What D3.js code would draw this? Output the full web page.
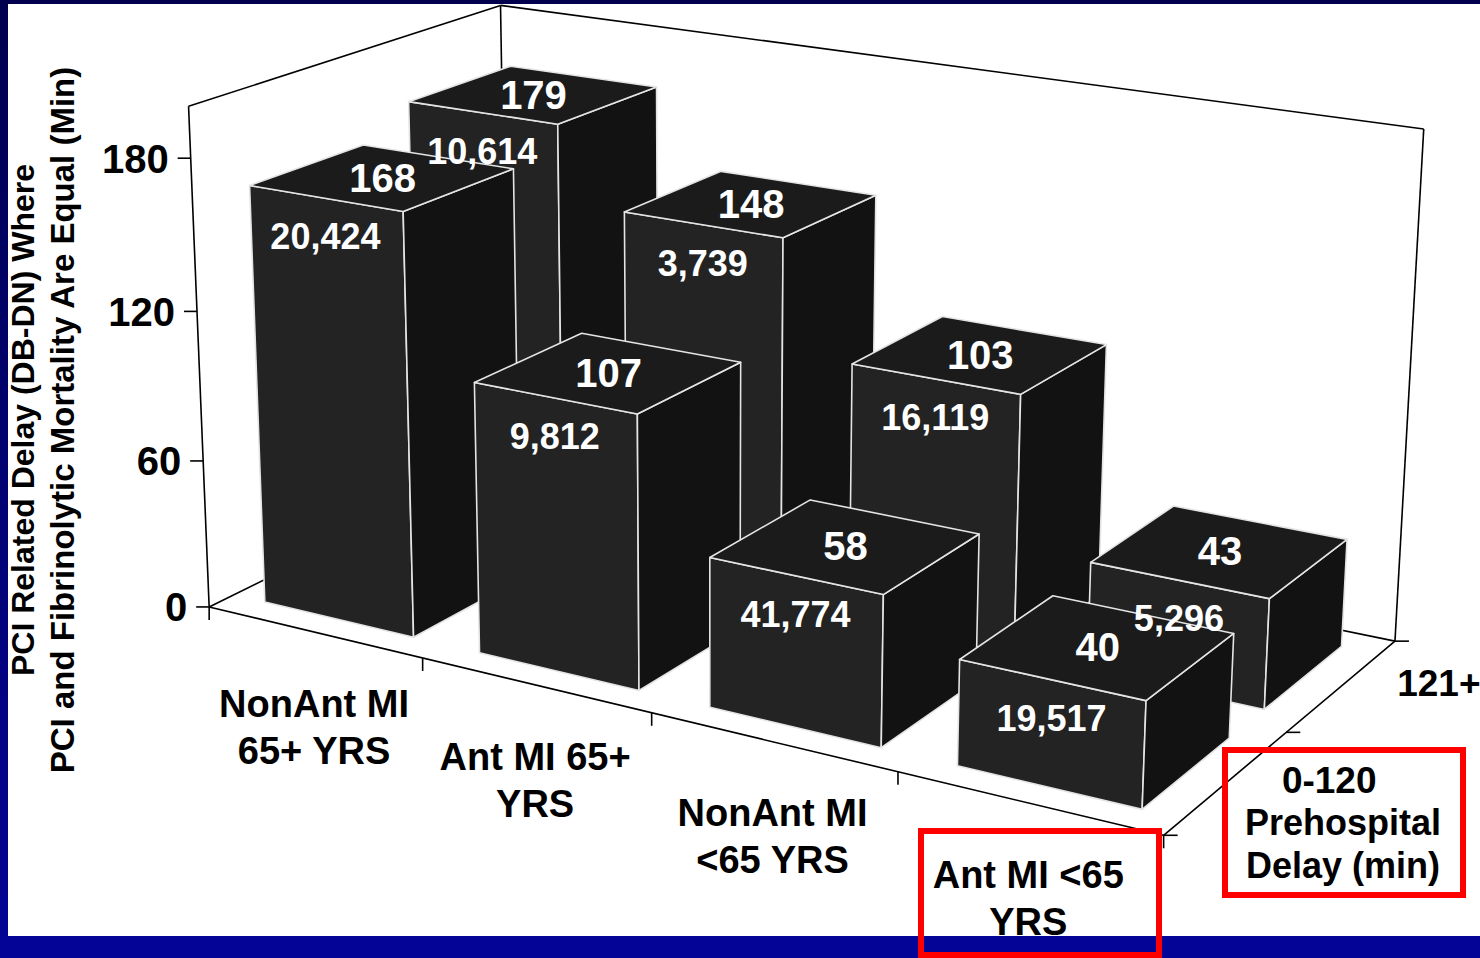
<!DOCTYPE html>
<html>
<head>
<meta charset="utf-8">
<script src="https://cdn.jsdelivr.net/npm/d3@7"></script>
<style>
body { margin: 0; background: #fff; }
text { font-family: "Liberation Sans", Arial, sans-serif; font-weight: bold; }
</style>
</head>
<body>
<svg id="chart" width="1480" height="958"></svg>
<script>
// chart data
var categoryLines = [["NonAnt MI", "65+ YRS"], ["Ant MI 65+", "YRS"], ["NonAnt MI", "<65 YRS"], ["Ant MI <65", "YRS"]]
var delayGroups = ["0-120", "121+"]
var delayEarly = [168, 107, 58, 40]          // 0-120 min prehospital delay
var delayEarlyN = [20424, 9812, 41774, 19517]
var delayLate = [179, 148, 103, 43]          // 121+ min
var delayLateN = [10614, 3739, 16119, 5296]
var valueTicks = [0, 60, 120, 180]

var svg = d3.select("#chart")

// world scales: x = category (0..4), z = delay row (0..2), y = value (0..2)
var xScale = d3.scaleBand().domain(d3.range(categoryLines.length)).range([0, 4]).paddingInner(0.3).paddingOuter(0.15)
var zScale = d3.scaleBand().domain(delayGroups).range([0, 2]).paddingInner(0.3).paddingOuter(0.15)
var yScale = d3.scaleLinear().domain([0, 200]).range([0, 2])

// camera fitted (DLT) to where the box frame sits in the picture
var calib = [
    [0, 0, 0, 210, 605], [4, 0, 0, 1163, 837], [0, 0, 2, 506, 461], [4, 0, 2, 1396, 639],
    [0, 2, 0, 188, 105], [0, 2, 2, 502, 5], [4, 2, 2, 1423, 130],
    [0, 0.6, 0, 204, 463], [0, 1.2, 0, 197, 312], [0, 1.8, 0, 190, 158],
    [1, 0, 0, 423, 657], [2, 0, 0, 652, 713], [3, 0, 0, 897, 772], [4, 0, 1, 1287, 732]
]

var solve = function(M, r)
    {
        var n = r.length
        for (var i = 0; i < n; i++)
        {
            var p = i
            for (var k = i + 1; k < n; k++) { if (Math.abs(M[k][i]) > Math.abs(M[p][i])) p = k }
            var tmp = M[i]; M[i] = M[p]; M[p] = tmp
            var t = r[i]; r[i] = r[p]; r[p] = t
            for (k = i + 1; k < n; k++)
            {
                var f = M[k][i] / M[i][i]
                for (var j = i; j < n; j++) M[k][j] -= f * M[i][j]
                r[k] -= f * r[i]
            }
        }
        var out = new Array(n)
        for (i = n - 1; i >= 0; i--)
        {
            var s = r[i]
            for (j = i + 1; j < n; j++) s -= M[i][j] * out[j]
            out[i] = s / M[i][i]
        }
        return out
    }

var fitCamera = function(pts)
    {
        var rows = [], rhs = []
        pts.forEach(function(d)
        {
            var X = d[0], Y = d[1], Z = d[2], u = d[3] / 1000, v = d[4] / 1000
            rows.push([X, Y, Z, 1, 0, 0, 0, 0, -u * X, -u * Y, -u * Z]); rhs.push(u)
            rows.push([0, 0, 0, 0, X, Y, Z, 1, -v * X, -v * Y, -v * Z]); rhs.push(v)
        })
        var N = [], t = []
        for (var a = 0; a < 11; a++)
        {
            N.push([])
            t.push(d3.sum(rows, function(row, i) { return row[a] * rhs[i] }))
            for (var b = 0; b < 11; b++) N[a].push(d3.sum(rows, function(row) { return row[a] * row[b] }))
        }
        return solve(N, t)
    }

var P = fitCamera(calib)

var project = function(X, Y, Z)
    {
        var w = P[8] * X + P[9] * Y + P[10] * Z + 1
        return [1000 * (P[0] * X + P[1] * Y + P[2] * Z + P[3]) / w,
                1000 * (P[4] * X + P[5] * Y + P[6] * Z + P[7]) / w]
    }

var line = function(a, b, width)
    {
        var p = project(a[0], a[1], a[2]), q = project(b[0], b[1], b[2])
        svg.append("line").attr("x1", p[0]).attr("y1", p[1]).attr("x2", q[0]).attr("y2", q[1])
            .attr("stroke", "#000").attr("stroke-width", width || 1.6)
    }

// blue slide frame
var grad = svg.append("defs").append("linearGradient").attr("id", "side").attr("x1", 0).attr("y1", 0).attr("x2", 0).attr("y2", 1)
grad.append("stop").attr("offset", "0%").attr("stop-color", "#00004f")
grad.append("stop").attr("offset", "100%").attr("stop-color", "#040496")

// box frame: walls and floor
var wallTop = yScale(200)
line([0, 0, 0], [0, wallTop, 0])
line([0, wallTop, 0], [0, wallTop, 2])
line([0, 0, 2], [0, wallTop, 2])
line([0, wallTop, 2], [4, wallTop, 2])
line([4, 0, 2], [4, wallTop, 2])
line([0, 0, 0], [4, 0, 0])
line([0, 0, 0], [0, 0, 2])
line([0, 0, 2], [4, 0, 2])
line([4, 0, 0], [4, 0, 2])

// value axis ticks
valueTicks.forEach(function(v)
{
    var p = project(0, yScale(v), 0)
    svg.append("line").attr("x1", p[0] - 13).attr("y1", p[1]).attr("x2", p[0]).attr("y2", p[1])
        .attr("stroke", "#000").attr("stroke-width", 1.6)
    svg.append("text").attr("x", p[0] - 22).attr("y", p[1]).attr("dy", "0.36em")
        .attr("text-anchor", "end").attr("font-size", 40).text(v)
})

// category ticks and labels
d3.range(categoryLines.length + 1).forEach(function(i)
{
    var p = project(i, 0, 0)
    svg.append("line").attr("x1", p[0]).attr("y1", p[1]).attr("x2", p[0]).attr("y2", p[1] + 13)
        .attr("stroke", "#000").attr("stroke-width", 1.6)
})
categoryLines.forEach(function(lines, i)
{
    var p = project(i + 0.5, 0, 0)
    var t = svg.append("text").attr("text-anchor", "middle").attr("font-size", 38)
    lines.forEach(function(s, k)
    {
        t.append("tspan").attr("x", p[0]).attr("y", p[1] + 71 + k * 47).attr("dy", "0.36em").text(s)
    })
})

// delay axis ticks and labels
d3.range(delayGroups.length + 1).forEach(function(i)
{
    var p = project(4, 0, i)
    svg.append("line").attr("x1", p[0]).attr("y1", p[1]).attr("x2", p[0] + 14).attr("y2", p[1])
        .attr("stroke", "#000").attr("stroke-width", 1.6)
})
delayGroups.forEach(function(g)
{
    var p = project(4, 0, zScale(g) + zScale.bandwidth() / 2)
    svg.append("text").attr("x", p[0] + 55).attr("y", p[1] - 3).attr("dy", "0.36em")
        .attr("font-size", 37).text(g)
})
svg.append("text").attr("x", 1343).attr("y", 822).attr("dy", "0.36em").attr("text-anchor", "middle")
    .attr("font-size", 36).text("Prehospital")
svg.append("text").attr("x", 1343).attr("y", 865).attr("dy", "0.36em").attr("text-anchor", "middle")
    .attr("font-size", 36).text("Delay (min)")

// y axis title
svg.append("text").attr("transform", "translate(34,420) rotate(-90)").attr("text-anchor", "middle")
    .attr("font-size", 32).text("PCI Related Delay (DB-DN) Where")
svg.append("text").attr("transform", "translate(74,420) rotate(-90)").attr("text-anchor", "middle")
    .attr("font-size", 33).text("PCI and Fibrinolytic Mortality Are Equal (Min)")

// bars: back row first, then front row, each left to right
var bars = []
var rows = [[delayGroups[1], delayLate, delayLateN], [delayGroups[0], delayEarly, delayEarlyN]]
rows.forEach(function(r)
{
    r[1].forEach(function(v, i)
    {
        bars.push({ group: r[0], cat: i, value: v, n: r[2][i] })
    })
})

var poly = function(pts) { return "M" + pts.map(function(c) { return project(c[0], c[1], c[2]).join(",") }).join("L") + "Z" }

bars.forEach(function(b)
{
    var x0 = xScale(b.cat), x1 = x0 + xScale.bandwidth()
    var z0 = zScale(b.group), z1 = z0 + zScale.bandwidth()
    var h = yScale(b.value)
    var g = svg.append("g").attr("stroke", "#e4e4e4").attr("stroke-width", 1.6).attr("stroke-linejoin", "round")
    g.append("path").attr("fill", "#232323").attr("d", poly([[x0, 0, z0], [x1, 0, z0], [x1, h, z0], [x0, h, z0]]))
    g.append("path").attr("fill", "#121212").attr("d", poly([[x1, 0, z0], [x1, 0, z1], [x1, h, z1], [x1, h, z0]]))
    g.append("path").attr("fill", "#1b1b1b").attr("d", poly([[x0, h, z0], [x1, h, z0], [x1, h, z1], [x0, h, z1]]))
})

// value on the top face, patient count on the front face
var fmt = d3.format(",")
bars.forEach(function(b)
{
    var x0 = xScale(b.cat), x1 = x0 + xScale.bandwidth()
    var z0 = zScale(b.group), z1 = z0 + zScale.bandwidth()
    var h = yScale(b.value)
    var c = project((x0 + x1) / 2, h, (z0 + z1) / 2)
    var f = project((x0 + x1) / 2, h, z0)
    svg.append("text").attr("x", c[0]).attr("y", c[1]).attr("dy", "0.36em").attr("text-anchor", "middle")
        .attr("fill", "#fff").attr("font-size", 40).text(b.value)
    svg.append("text").attr("x", f[0]).attr("y", f[1] + 38).attr("dy", "0.36em").attr("text-anchor", "middle")
        .attr("fill", "#fff").attr("font-size", 36).text(fmt(b.n))
})

// slide frame and highlight boxes
svg.append("rect").attr("x", 0).attr("y", 0).attr("width", 8).attr("height", 958).attr("fill", "url(#side)")
svg.append("rect").attr("x", 0).attr("y", 0).attr("width", 1480).attr("height", 4).attr("fill", "#00004f")
svg.append("rect").attr("x", 0).attr("y", 936).attr("width", 1480).attr("height", 22).attr("fill", "#040496")
svg.append("rect").attr("x", 921).attr("y", 831).attr("width", 238).attr("height", 124)
    .attr("fill", "none").attr("stroke", "#ff0000").attr("stroke-width", 6)
svg.append("rect").attr("x", 1225).attr("y", 750).attr("width", 238).attr("height", 145)
    .attr("fill", "none").attr("stroke", "#ff0000").attr("stroke-width", 6)
</script>
</body>
</html>
